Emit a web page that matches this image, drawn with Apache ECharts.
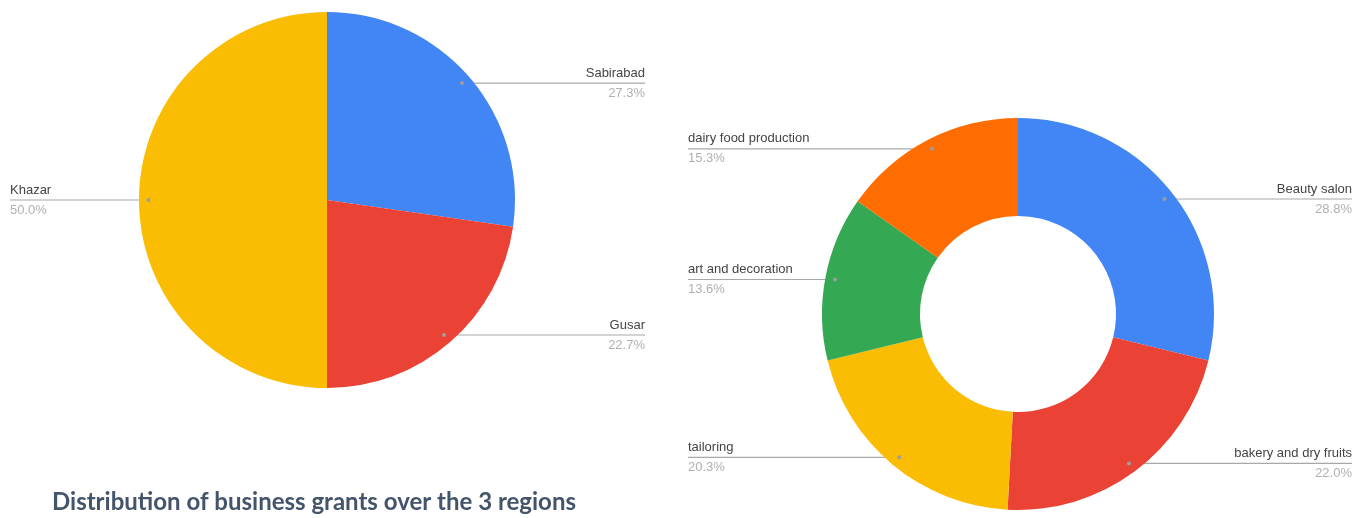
<!DOCTYPE html>
<html><head><meta charset="utf-8">
<script src="https://cdn.jsdelivr.net/npm/echarts@6/dist/echarts.min.js"></script>
<style>html,body{margin:0;padding:0;background:#fff}#c{width:1364px;height:518px}</style>
</head><body><div id="c"></div>
<script>
const regionNames = ['Sabirabad', 'Gusar', 'Khazar'];
const regionValues = [6, 5, 11];
const businessNames = ['Beauty salon', 'bakery and dry fruits', 'tailoring', 'art and decoration', 'dairy food production'];
const businessValues = [17, 13, 12, 8, 9];
const regionColors = ['#4285F4', '#EA4335', '#FBBC04'];
const businessColors = ['#4285F4', '#EA4335', '#FBBC04', '#34A853', '#FF6D01'];
const titleText = 'Distribution of business grants over the 3 regions';

const pies = [
  {center: [327, 200], rIn: 0, rOut: 188, leftEdge: 10, rightEdge: 645},
  {center: [1018, 314], rIn: 98, rOut: 196, leftEdge: 688, rightEdge: 1352}
];
const dots = {};

function makeLayout(si) {
  const p = pies[si];
  return function (params) {
    const pts = params.labelLinePoints;
    if (!pts) return {};
    const ex = pts[0][0], ey = pts[0][1];
    const cx = p.center[0], cy = p.center[1];
    const dx = cx + (ex - cx) * 0.95, dy = cy + (ey - cy) * 0.95;
    dots[si + '_' + params.dataIndex] = [dx, dy];
    const left = dx < cx;
    const edge = left ? p.leftEdge : p.rightEdge;
    return {
      x: edge, y: dy, align: left ? 'left' : 'right', verticalAlign: 'middle',
      labelLinePoints: [[dx, dy], [(dx + edge) / 2, dy], [edge, dy]]
    };
  };
}

const labelCfg = {
  show: true, position: 'outside',
  formatter: function (p) { return '{n|' + p.name + '}\n{p|' + p.percent.toFixed(1) + '%}'; },
  rich: {
    n: {fontFamily: 'Arial, Liberation Sans', fontSize: 13, color: '#444', lineHeight: 20},
    p: {fontFamily: 'Arial, Liberation Sans', fontSize: 13, color: '#b0b0b0', lineHeight: 20}
  }
};
const lineCfg = {show: true, length: 5, length2: 5, lineStyle: {color: '#a8a8a8', width: 1.2}};

function mk(names, vals) { return names.map((n, i) => ({name: n, value: vals[i]})); }

const chart = echarts.init(document.getElementById('c'), null, {renderer: 'canvas'});
chart.setOption({
  animation: false,
  backgroundColor: '#fff',
  title: {text: titleText, left: 47, top: 485,
    textStyle: {fontFamily: 'Lato', fontWeight: 'bold', fontSize: 24, color: '#44546A'}},
  series: [
    {type: 'pie', center: pies[0].center, radius: [pies[0].rIn, pies[0].rOut],
      startAngle: 90, clockwise: true, percentPrecision: 1,
      data: mk(regionNames, regionValues), color: regionColors,
      label: labelCfg, labelLine: lineCfg, labelLayout: makeLayout(0),
      emphasis: {disabled: true}},
    {type: 'pie', center: pies[1].center, radius: [pies[1].rIn, pies[1].rOut],
      startAngle: 90, clockwise: true, percentPrecision: 1,
      data: mk(businessNames, businessValues), color: businessColors,
      label: labelCfg, labelLine: lineCfg, labelLayout: makeLayout(1),
      emphasis: {disabled: true}}
  ]
});
setTimeout(function () {
  const g = Object.keys(dots).map(k => ({
    type: 'circle', shape: {cx: dots[k][0], cy: dots[k][1], r: 2},
    style: {fill: '#9e9e9e'}, z: 100
  }));
  chart.setOption({graphic: g});
}, 50);
</script></body></html>
